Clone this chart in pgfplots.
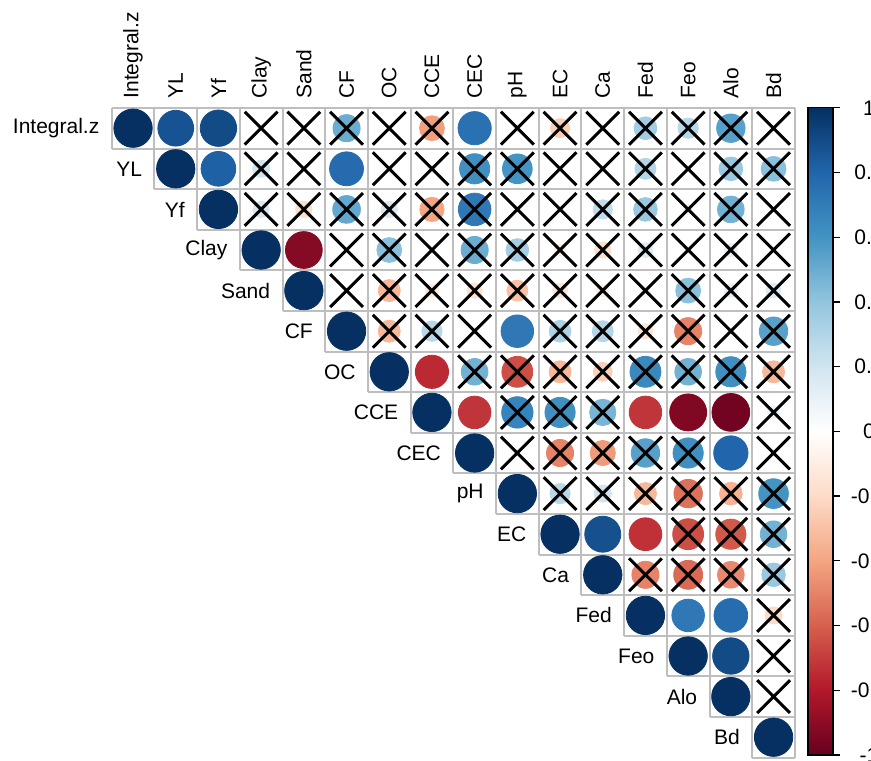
\documentclass[border=0pt]{standalone}
\usepackage{fontspec}
\setmainfont{Liberation Sans}
\usepackage{pgfplots}
\usepackage{pgfplotstable}
\pgfplotsset{compat=1.18}
\usetikzlibrary{calc}
\definecolor{gridgray}{RGB}{190,190,190}
\pgfplotsset{colormap={RdBu}{rgb255=(103,0,31) rgb255=(178,24,43) rgb255=(214,96,77) rgb255=(244,165,130) rgb255=(253,219,199) rgb255=(255,255,255) rgb255=(209,229,240) rgb255=(146,197,222) rgb255=(67,147,195) rgb255=(33,102,172) rgb255=(5,48,97)}}
% c = column index, r = row index, v = correlation, s = 1 if crossed (not significant)
\pgfplotstableread{
c r v s
0 0 1 0
1 0 0.87 0
2 0 0.9 0
3 0 0.05 1
4 0 0 1
5 0 0.5 1
6 0 0.04 1
7 0 -0.42 1
8 0 0.75 0
9 0 0.05 1
10 0 -0.25 1
11 0 0 1
12 0 0.35 1
13 0 0.28 1
14 0 0.55 1
15 0 0 1
1 1 1 0
2 1 0.82 0
3 1 0.2 1
4 1 0 1
5 1 0.78 0
6 1 -0.06 1
7 1 -0.06 1
8 1 0.62 1
9 1 0.6 1
10 1 -0.03 1
11 1 0.05 1
12 1 0.3 1
13 1 0 1
14 1 0.38 1
15 1 0.42 1
2 2 1 0
3 2 0.18 1
4 2 -0.18 1
5 2 0.52 1
6 2 0.18 1
7 2 -0.4 1
8 2 0.72 1
9 2 0.05 1
10 2 -0.02 1
11 2 0.25 1
12 2 0.38 1
13 2 0.07 1
14 2 0.48 1
15 2 0 1
3 3 1 0
4 3 -0.92 0
5 3 0 1
6 3 0.42 1
7 3 -0.04 1
8 3 0.5 1
9 3 0.35 1
10 3 -0.1 1
11 3 -0.18 1
12 3 0.15 1
13 3 -0.05 1
14 3 0.12 1
15 3 0 1
4 4 1 0
5 4 0 1
6 4 -0.33 1
7 4 -0.12 1
8 4 -0.16 1
9 4 -0.3 1
10 4 -0.15 1
11 4 -0.1 1
12 4 0.08 1
13 4 0.42 1
14 4 0.12 1
15 4 0.15 1
5 5 1 0
6 5 -0.33 1
7 5 0.28 1
8 5 0.04 1
9 5 0.72 0
10 5 0.32 1
11 5 0.3 1
12 5 -0.15 1
13 5 -0.5 1
14 5 -0.03 1
15 5 0.55 1
6 6 1 0
7 6 -0.75 0
8 6 0.48 1
9 6 -0.65 1
10 6 -0.33 1
11 6 -0.24 1
12 6 0.65 1
13 6 0.48 1
14 6 0.62 1
15 6 -0.33 1
7 7 1 0
8 7 -0.72 0
9 7 0.67 1
10 7 0.62 1
11 7 0.47 1
12 7 -0.72 0
13 7 -0.93 0
14 7 -0.97 0
15 7 0.1 1
8 8 1 0
9 8 0 1
10 8 -0.5 1
11 8 -0.43 1
12 8 0.55 1
13 8 0.62 1
14 8 0.8 0
15 8 0 1
9 9 1 0
10 9 0.28 1
11 9 0.2 1
12 9 -0.33 1
13 9 -0.55 1
14 9 -0.35 1
15 9 0.6 1
10 10 1 0
11 10 0.88 0
12 10 -0.73 0
13 10 -0.65 1
14 10 -0.62 1
15 10 0.48 1
11 11 1 0
12 11 -0.5 1
13 11 -0.57 1
14 11 -0.48 1
15 11 0.38 1
12 12 1 0
13 12 0.72 0
14 12 0.77 0
15 12 -0.2 1
13 13 1 0
14 13 0.9 0
15 13 0 1
14 14 1 0
15 14 0 1
15 15 1 0
}\corr
\begin{document}
\begin{tikzpicture}[font=\fontsize{10.5}{12.6}\selectfont]
\begin{axis}[
  name=main,
  x=21.35pt, y=20.3pt, y dir=reverse,
  xmin=-0.5, xmax=15.5, ymin=-0.5, ymax=15.5,
  clip=false,
  axis line style={draw=none},
  major tick length=0pt,
  tick style={draw=none},
  xtick={0,...,15},
  xticklabels={Integral.z,YL,Yf,Clay,Sand,CF,OC,CCE,CEC,pH,EC,Ca,Fed,Feo,Alo,Bd},
  xticklabel pos=upper,
  xticklabel style={rotate=90, anchor=west, inner xsep=4.5pt, inner ysep=0pt},
  ytick=\empty,
  colormap name=RdBu,
  point meta min=-1, point meta max=1,
  colorbar,
  colorbar style={
    at={(parent axis.north east)}, anchor=north west, xshift=-2pt,
    width=12.5pt, height=323.5pt,
    axis line style={draw=black, line width=0.6pt},
    ytick={-1,-0.8,-0.6,-0.4,-0.2,0,0.2,0.4,0.6,0.8,1},
    yticklabels={-1,-0.8,-0.6,-0.4,-0.2,0,0.2,0.4,0.6,0.8,1},
    ytick pos=right, yticklabel pos=right,
    tick align=outside, major tick length=3.5pt,
    ytick style={draw=black, line width=0.6pt},
    yticklabel style={anchor=center, inner sep=0pt, xshift=14.5pt},
    xtick=\empty,
  },
]
\draw[color=gridgray, line width=1pt]
 (-0.5,-0.5) -- (15.5,-0.5)
 (-0.5,0.5) -- (15.5,0.5)
 (0.5,1.5) -- (15.5,1.5)
 (1.5,2.5) -- (15.5,2.5)
 (2.5,3.5) -- (15.5,3.5)
 (3.5,4.5) -- (15.5,4.5)
 (4.5,5.5) -- (15.5,5.5)
 (5.5,6.5) -- (15.5,6.5)
 (6.5,7.5) -- (15.5,7.5)
 (7.5,8.5) -- (15.5,8.5)
 (8.5,9.5) -- (15.5,9.5)
 (9.5,10.5) -- (15.5,10.5)
 (10.5,11.5) -- (15.5,11.5)
 (11.5,12.5) -- (15.5,12.5)
 (12.5,13.5) -- (15.5,13.5)
 (13.5,14.5) -- (15.5,14.5)
 (14.5,15.5) -- (15.5,15.5)
 (-0.5,-0.5) -- (-0.5,0.5)
 (0.5,-0.5) -- (0.5,1.5)
 (1.5,-0.5) -- (1.5,2.5)
 (2.5,-0.5) -- (2.5,3.5)
 (3.5,-0.5) -- (3.5,4.5)
 (4.5,-0.5) -- (4.5,5.5)
 (5.5,-0.5) -- (5.5,6.5)
 (6.5,-0.5) -- (6.5,7.5)
 (7.5,-0.5) -- (7.5,8.5)
 (8.5,-0.5) -- (8.5,9.5)
 (9.5,-0.5) -- (9.5,10.5)
 (10.5,-0.5) -- (10.5,11.5)
 (11.5,-0.5) -- (11.5,12.5)
 (12.5,-0.5) -- (12.5,13.5)
 (13.5,-0.5) -- (13.5,14.5)
 (14.5,-0.5) -- (14.5,15.5)
 (15.5,-0.5) -- (15.5,15.5);
\addplot[scatter, only marks, mark=*,
  point meta=explicit,
  scatter/use mapped color={draw=mapped color, fill=mapped color},
  visualization depends on={9.6*sqrt(abs(\thisrow{v})) \as \rad},
  scatter/@pre marker code/.append style={/tikz/mark size=\rad pt}]
  table[x=c, y=r, meta=v] {\corr};
\addplot[only marks, mark=x, mark size=11.6pt,
  mark options={draw=black, line width=1.5pt},
  restrict expr to domain={\thisrow{s}}{0.5:1.5}]
  table[x=c, y=r] {\corr};
\node[anchor=east, inner sep=0pt, xshift=-6pt] at (axis cs:-0.5,0) {Integral.z};
\node[anchor=east, inner sep=0pt, xshift=-6pt] at (axis cs:0.5,1) {YL};
\node[anchor=east, inner sep=0pt, xshift=-6pt] at (axis cs:1.5,2) {Yf};
\node[anchor=east, inner sep=0pt, xshift=-6pt] at (axis cs:2.5,3) {Clay};
\node[anchor=east, inner sep=0pt, xshift=-6pt] at (axis cs:3.5,4) {Sand};
\node[anchor=east, inner sep=0pt, xshift=-6pt] at (axis cs:4.5,5) {CF};
\node[anchor=east, inner sep=0pt, xshift=-6pt] at (axis cs:5.5,6) {OC};
\node[anchor=east, inner sep=0pt, xshift=-6pt] at (axis cs:6.5,7) {CCE};
\node[anchor=east, inner sep=0pt, xshift=-6pt] at (axis cs:7.5,8) {CEC};
\node[anchor=east, inner sep=0pt, xshift=-6pt] at (axis cs:8.5,9) {pH};
\node[anchor=east, inner sep=0pt, xshift=-6pt] at (axis cs:9.5,10) {EC};
\node[anchor=east, inner sep=0pt, xshift=-6pt] at (axis cs:10.5,11) {Ca};
\node[anchor=east, inner sep=0pt, xshift=-6pt] at (axis cs:11.5,12) {Fed};
\node[anchor=east, inner sep=0pt, xshift=-6pt] at (axis cs:12.5,13) {Feo};
\node[anchor=east, inner sep=0pt, xshift=-6pt] at (axis cs:13.5,14) {Alo};
\node[anchor=east, inner sep=0pt, xshift=-6pt] at (axis cs:14.5,15) {Bd};
\end{axis}
\pgfresetboundingbox
\path[use as bounding box] ($(main.south west)+(-55.85pt,-1.25pt)$) rectangle ++(435.5pt,380pt);
\end{tikzpicture}
\end{document}
